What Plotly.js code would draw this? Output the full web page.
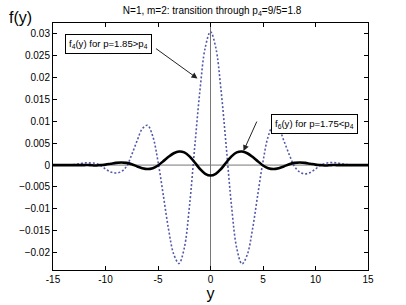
<!DOCTYPE html>
<html>
<head>
<meta charset="utf-8">
<script src="https://cdn.plot.ly/plotly-3.0.1.min.js"></script>
<style>
html,body{margin:0;padding:0;background:#fff;}
#chart{width:406px;height:305px;}
</style>
</head>
<body>
<div id="chart"></div>
<script>
// y grid (horizontal coordinate)
var yGrid = [-15,-14.5,-14,-13.5,-13,-12.5,-12,-11.5,-11,-10.5,-10,-9.5,-9,-8.5,-8,-7.5,-7,-6.5,-6,-5.5,-5,-4.5,-4,-3.5,-3,-2.5,-2,-1.5,-1,-0.5,
  0,0.5,1,1.5,2,2.5,3,3.5,4,4.5,5,5.5,6,6.5,7,7.5,8,8.5,9,9.5,10,10.5,11,11.5,12,12.5,13,13.5,14,14.5,15];

// f4(y), p = 1.85 (dotted)
var f4 = [0,0,0,0,0.0001,0.0003,0.0005,0.0005,0.0004,0.0000,-0.0009,-0.0016,-0.0018,-0.0015,-0.0003,0.0024,0.0055,0.0083,0.0091,0.0066,0.0008,-0.0068,-0.0146,-0.0204,-0.0225,-0.0190,-0.0093,0.0042,0.0172,0.0269,
  0.0305,0.0269,0.0172,0.0042,-0.0093,-0.0190,-0.0226,-0.0205,-0.0147,-0.0068,0.0008,0.0066,0.0091,0.0083,0.0055,0.0024,-0.0003,-0.0016,-0.0020,-0.0017,-0.0009,0.0000,0.0004,0.0006,0.0005,0.0003,0.0001,0,0,0,0];

// f6(y), p = 1.75 (solid)
var f6 = [0,0,0,0,0,0,0,0,-0.0001,0.0000,0.0001,0.0003,0.0005,0.0006,0.0005,0.0002,-0.0003,-0.0007,-0.0009,-0.0007,-0.0001,0.0009,0.0019,0.0027,0.0031,0.0029,0.0020,0.0006,-0.0009,-0.0020,
  -0.0024,-0.0020,-0.0009,0.0006,0.0020,0.0029,0.0031,0.0027,0.0019,0.0009,-0.0001,-0.0007,-0.0009,-0.0007,-0.0003,0.0002,0.0005,0.0006,0.0005,0.0003,0.0001,0.0000,-0.0001,0,0,0,0,0,0,0,0];

var xTicks = [-15,-10,-5,0,5,10,15];
var yTicks = [-0.02,-0.015,-0.01,-0.005,0,0.005,0.01,0.015,0.02,0.025,0.03];
var yTickText = ['\u22120.02','\u22120.015','\u22120.01','\u22120.005','0','0.005','0.01','0.015','0.02','0.025','0.03'];

var FONT = 'Liberation Sans, Arial, Helvetica, sans-serif';

var traces = [
  {x: yGrid, y: f4, type:'scatter', mode:'lines', line:{color:'#525aa8', width:1.6, dash:'2px,2px', shape:'spline', smoothing:1}, hoverinfo:'skip'},
  {x: yGrid, y: f6, type:'scatter', mode:'lines', line:{color:'#000', width:2.6, shape:'spline', smoothing:1}, hoverinfo:'skip'}
];

var layout = {
  width:406, height:305,
  margin:{l:53, r:38, t:23, b:35},
  paper_bgcolor:'#fff', plot_bgcolor:'#fff',
  showlegend:false,
  font:{family:FONT, size:10, color:'#000'},
  title:{text:'N=1, m=2: transition through p<sub>4</sub>=9/5=1.8', font:{family:FONT, size:10, color:'#000'},
         x:0.505, xref:'paper', xanchor:'center', y:1-10/305, yref:'container', yanchor:'middle'},
  xaxis:{range:[-15,15], tickvals:xTicks, ticktext:xTicks.map(String), ticks:'inside', ticklen:4, tickcolor:'#000',
         showline:true, linecolor:'#000', linewidth:1, mirror:'ticks', showgrid:false, zeroline:false,
         tickfont:{family:FONT, size:10}, title:{text:'y', font:{family:FONT, size:16}, standoff:2}},
  yaxis:{range:[-0.024,0.0325], tickvals:yTicks, ticktext:yTickText, ticks:'inside', ticklen:4, tickcolor:'#000',
         showline:true, linecolor:'#000', linewidth:1, mirror:'ticks', showgrid:false, zeroline:false,
         tickfont:{family:FONT, size:10}},
  shapes:[
    {type:'line', xref:'x', yref:'paper', x0:0, x1:0, y0:0, y1:1, line:{color:'#777', width:1}, layer:'below'},
    {type:'line', xref:'paper', yref:'y', x0:0, x1:1, y0:0, y1:0, line:{color:'#777', width:1}, layer:'below'}
  ],
  annotations:[
    {text:'f(y)', xref:'paper', yref:'paper', x:-0.145, y:1+5/247, xanchor:'left', yanchor:'middle', showarrow:false,
     font:{family:FONT, size:16, color:'#000'}},
    {text:'f<sub>4</sub>(y) for p=1.85>p<sub>4</sub>', xref:'x', yref:'y', x:-9.67, y:0.0277, showarrow:false,
     bordercolor:'#000', borderwidth:1, borderpad:3, bgcolor:'#fff', font:{family:FONT, size:9.6, color:'#000'}},
    {text:'', xref:'x', yref:'y', x:-1.24, y:0.0198, ax:-43, ay:-31, showarrow:true, arrowhead:2, arrowsize:1.2, arrowwidth:1, arrowcolor:'#222'},
    {text:'f<sub>6</sub>(y) for p=1.75<p<sub>4</sub>', xref:'x', yref:'y', x:9.9, y:0.0093, showarrow:false,
     bordercolor:'#000', borderwidth:1, borderpad:3, bgcolor:'#fff', font:{family:FONT, size:9.6, color:'#000'}},
    {text:'', xref:'x', yref:'y', x:3.14, y:0.0032, ax:14, ay:-31, showarrow:true, arrowhead:2, arrowsize:1.2, arrowwidth:1, arrowcolor:'#222'}
  ]
};

Plotly.newPlot('chart', traces, layout, {staticPlot:true, displayModeBar:false});
</script>
</body>
</html>
